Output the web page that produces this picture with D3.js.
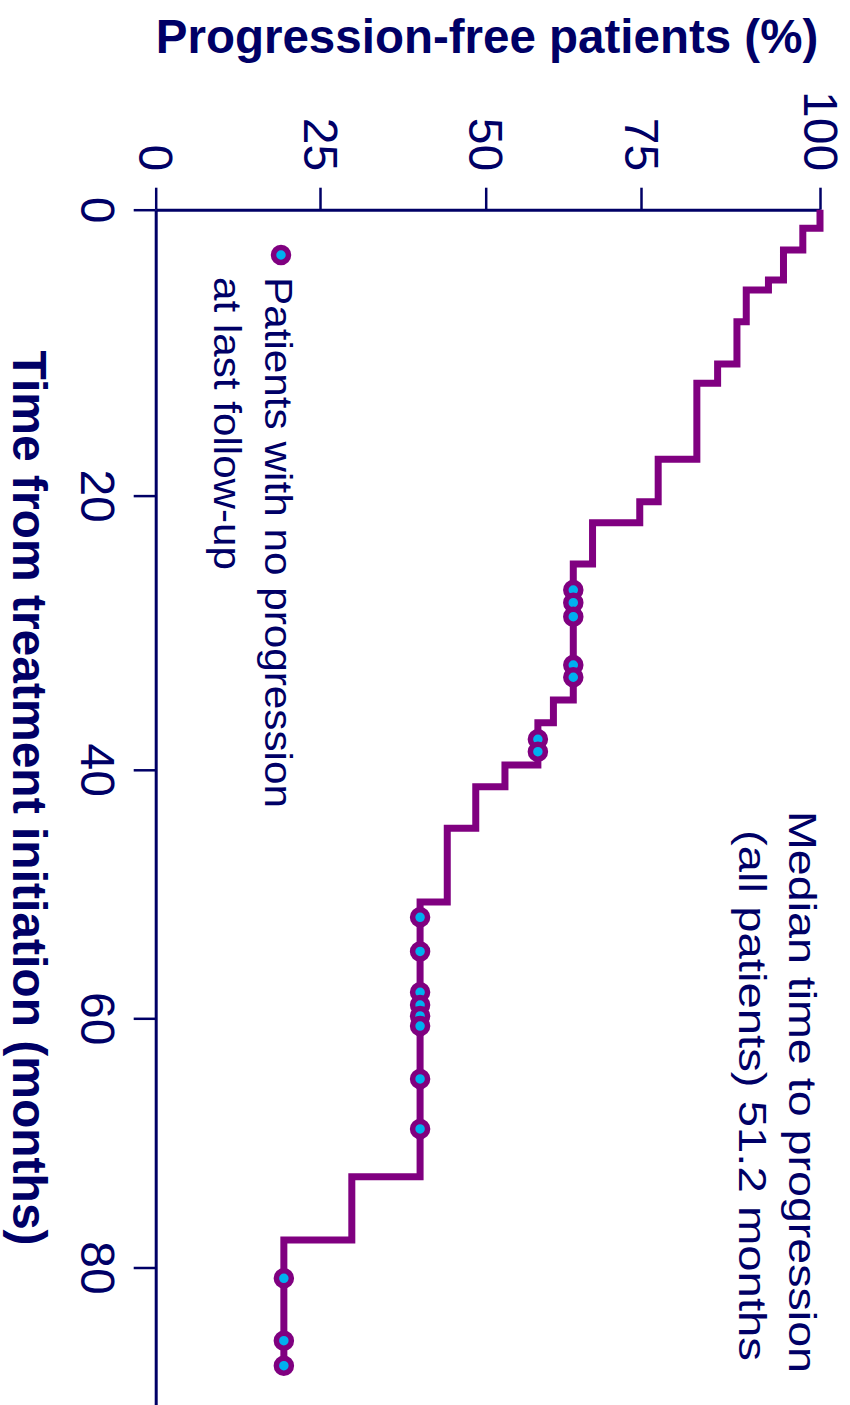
<!DOCTYPE html>
<html>
<head>
<meta charset="utf-8">
<script src="https://cdn.jsdelivr.net/npm/d3@7"></script>
<style>
  html, body { margin: 0; padding: 0; background: #fff; }
  svg { display: block; }
  text { font-family: "Liberation Sans", Arial, Helvetica, sans-serif; fill: #000066; }
</style>
</head>
<body>
<svg id="chart" width="850" height="1405"></svg>
<script>
// Kaplan-Meier estimate: months at which a progression occurred,
// and the progression-free percentage right after each one.
const progressionMonths = [1.30, 2.82, 4.92, 5.62, 7.83, 10.79, 12.14, 17.46, 20.44, 21.98,
                           24.99, 34.91, 36.56, 39.65, 41.36, 44.71, 50.64, 72.71, 77.79];
const progressionFreePct = [97.6, 94.9, 92.8, 89.7, 88.4, 85.7, 82.8, 77.4, 74.8, 67.2,
                            64.1, 60.9, 58.4, 53.1, 48.5, 44.2, 40.1, 29.8, 19.5];
// Patients still progression-free at their last follow-up (censored)
const censoredMonths = [26.89, 27.81, 28.83, 32.36, 33.25, 37.78, 38.68, 51.87, 54.62,
                        57.91, 58.93, 59.81, 60.62, 64.87, 68.88, 80.87, 85.87, 87.88];

const pctTicks = [0, 25, 50, 75, 100];
const monthTicks = [0, 20, 40, 60, 80];

const pctTitle = "Progression-free patients (%)";
const monthTitle = "Time from treatment initiation (months)";
const legendLines = ["Patients with no progression", "at last follow-up"];
const medianLines = ["Median time to progression", "(all patients) 51.2 months"];

const navy = "#000066";
const purple = "#800080";
const cyan = "#00b0f0";

const svg = d3.select("#chart");

// The figure is laid out turned on its side: percent runs left-to-right
// along the top, time runs downward.
const pct = d3.scaleLinear()
  .domain([0, 25, 50, 75, 100])
  .range([155.7, 320, 485.7, 641, 820]);
const month = d3.scaleLinear()
  .domain([0, 20, 40, 60, 80, 91])
  .range([209.7, 495.6, 769.8, 1018.3, 1267.5, 1404.6]);

const axisY = month(0);
const axisX = pct(0);

// Percent axis (top)
const gPct = svg.append("g")
  .attr("transform", `translate(0,${axisY})`)
  .call(d3.axisTop(pct).tickValues(pctTicks).tickSize(22).tickSizeOuter(0).tickPadding(0));
gPct.select(".domain").attr("stroke", navy).attr("stroke-width", 3);
gPct.selectAll(".tick line").attr("stroke", navy).attr("stroke-width", 2.5);
gPct.selectAll(".tick text")
  .attr("y", null).attr("x", null)
  .attr("dy", "0.35em")
  .attr("text-anchor", "end")
  .attr("transform", "translate(0,-38.5) rotate(90)")
  .style("font-size", "48px")
  .attr("fill", navy);

// Time axis (left)
const gMonth = svg.append("g")
  .attr("transform", `translate(${axisX},0)`)
  .call(d3.axisLeft(month).tickValues(monthTicks).tickSize(22).tickSizeOuter(0).tickPadding(0));
gMonth.select(".domain").attr("stroke", navy).attr("stroke-width", 3);
gMonth.selectAll(".tick line").attr("stroke", navy).attr("stroke-width", 2.5);
gMonth.selectAll(".tick text")
  .attr("y", null).attr("x", null)
  .attr("dy", "0")
  .attr("text-anchor", "middle")
  .attr("transform", `translate(${80.5 - axisX},0) rotate(90)`)
  .style("font-size", "48px")
  .attr("fill", navy);

// Axis titles
svg.append("text")
  .attr("x", 487).attr("y", 53)
  .attr("text-anchor", "middle")
  .style("font-size", "47.5px").style("font-weight", "bold")
  .text(pctTitle);

svg.append("text")
  .attr("transform", "translate(12.5,798) rotate(90)")
  .attr("text-anchor", "middle")
  .style("font-size", "48px").style("font-weight", "bold")
  .text(monthTitle);

// Step curve
const steps = [{ t: 0, s: 100 }].concat(
  progressionMonths.map((t, i) => ({ t, s: progressionFreePct[i] }))
);
const levelAt = t => {
  let s = 100;
  steps.forEach(d => { if (d.t <= t) s = d.s; });
  return s;
};
const lastCensor = d3.max(censoredMonths);
const curvePts = steps.concat([{ t: lastCensor, s: levelAt(lastCensor) }]);

const line = d3.line()
  .x(d => pct(d.s))
  .y(d => month(d.t))
  .curve(d3.curveStepBefore);

svg.append("path")
  .datum(curvePts)
  .attr("d", line)
  .attr("fill", "none")
  .attr("stroke", purple)
  .attr("stroke-width", 7)
  .attr("stroke-linejoin", "miter");

// Censor marks
svg.append("g").selectAll("circle")
  .data(censoredMonths)
  .join("circle")
  .attr("cx", t => pct(levelAt(t)))
  .attr("cy", t => month(t))
  .attr("r", 7.5)
  .attr("fill", cyan)
  .attr("stroke", purple)
  .attr("stroke-width", 5.5);

// Legend
svg.append("circle")
  .attr("cx", 281).attr("cy", 255).attr("r", 7.5)
  .attr("fill", cyan).attr("stroke", purple).attr("stroke-width", 5.5);

const legendBaselines = [265, 214];
const legendLengths = [531, 293];
legendLines.forEach((txt, i) => {
  svg.append("text")
    .attr("transform", `translate(${legendBaselines[i]},277) rotate(90)`)
    .attr("textLength", legendLengths[i])
    .attr("lengthAdjust", "spacingAndGlyphs")
    .style("font-size", "38px")
    .text(txt);
});

// Median annotation
const medianBaselines = [789, 739];
const medianStarts = [811, 830];
const medianLengths = [562, 531];
medianLines.forEach((txt, i) => {
  svg.append("text")
    .attr("transform", `translate(${medianBaselines[i]},${medianStarts[i]}) rotate(90)`)
    .attr("textLength", medianLengths[i])
    .attr("lengthAdjust", "spacingAndGlyphs")
    .style("font-size", "38px")
    .text(txt);
});
</script>
</body>
</html>
